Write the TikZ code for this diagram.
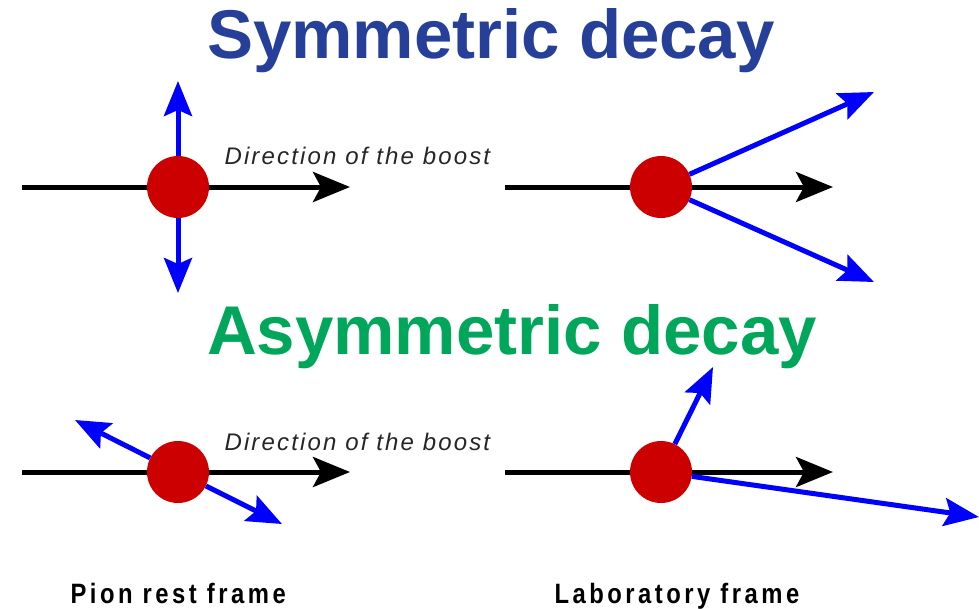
\documentclass[tikz,border=0pt]{standalone}
\usepackage{fontspec}
\setmainfont{Liberation Sans}
\usetikzlibrary{arrows.meta}
\definecolor{titleblue}{HTML}{26409A}
\definecolor{titlegreen}{HTML}{00A65A}
\definecolor{ballred}{HTML}{CC0000}
\definecolor{arrowblue}{HTML}{0000FF}
\tikzset{
  ball/.style={circle, fill=ballred, minimum size=62pt, inner sep=0pt},
  axis/.style={line width=5pt, black},
  axisarrow/.style={axis, -{Stealth[length=37pt, width=30pt, inset=8pt]}},
  photon/.style={line width=5pt, arrowblue, -{Stealth[length=35pt, width=28pt, inset=6pt]}},
  titletext/.style={anchor=base, font=\fontsize{69}{80}\selectfont\bfseries},
  boosttext/.style={anchor=base west, text=black!85, font=\fontsize{24}{28}\selectfont\addfontfeatures{LetterSpace=9}\itshape},
  frametext/.style={anchor=base west, font=\fontsize{28}{32}\selectfont\addfontfeatures{FakeStretch=0.85,LetterSpace=12.5}\bfseries}
}
\begin{document}
\begin{tikzpicture}[x=1pt, y=-1pt]
\useasboundingbox (0,0) rectangle (979,608);

% Titles
\node[titletext, text=titleblue] (t1) at (491,58) {Symmetric decay};
\node[titletext, text=titlegreen] (t2) at (512,354) {Asymmetric decay};

% ---------- Symmetric, rest frame ----------
\node[ball] (c1) at (178,187) {};
\coordinate (a1l) at (22,187);
\coordinate (a1r) at (350,187);
\coordinate (p1u) at (178,81);
\coordinate (p1d) at (178,293);
\draw[axis] (a1l) -- (c1);
\draw[axisarrow] (c1) -- (a1r);
\draw[photon] (c1) -- (p1u);
\draw[photon] (c1) -- (p1d);
\node[boosttext] (b1) at (221,164) {Direction of the boost};

% ---------- Symmetric, lab frame ----------
\node[ball] (c2) at (661,187) {};
\coordinate (a2l) at (505,187);
\coordinate (a2r) at (833,187);
\coordinate (p2u) at (874,92);
\coordinate (p2d) at (874,282);
\draw[axis] (a2l) -- (c2);
\draw[axisarrow] (c2) -- (a2r);
\draw[photon] (c2) -- (p2u);
\draw[photon] (c2) -- (p2d);

% ---------- Asymmetric, rest frame ----------
\node[ball] (c3) at (178,472) {};
\coordinate (a3l) at (22,472);
\coordinate (a3r) at (350,472);
\coordinate (p3u) at (75,420);
\coordinate (p3d) at (282,524);
\draw[axis] (a3l) -- (c3);
\draw[axisarrow] (c3) -- (a3r);
\draw[photon] (c3) -- (p3u);
\draw[photon] (c3) -- (p3d);
\node[boosttext] (b2) at (221,450) {Direction of the boost};

% ---------- Asymmetric, lab frame ----------
\node[ball] (c4) at (661,472) {};
\coordinate (a4l) at (505,472);
\coordinate (a4r) at (833,472);
\coordinate (p4u) at (713,367);
\coordinate (p4d) at (979,517);
\draw[axis] (a4l) -- (c4);
\draw[axisarrow] (c4) -- (a4r);
\draw[photon] (c4) -- (p4u);
\draw[photon] (c4) -- (p4d);

% Frame labels
\node[frametext] (f1) at (67,603) {Pion rest frame};
\node[frametext] (f2) at (551,603) {Laboratory frame};
\end{tikzpicture}
\end{document}
